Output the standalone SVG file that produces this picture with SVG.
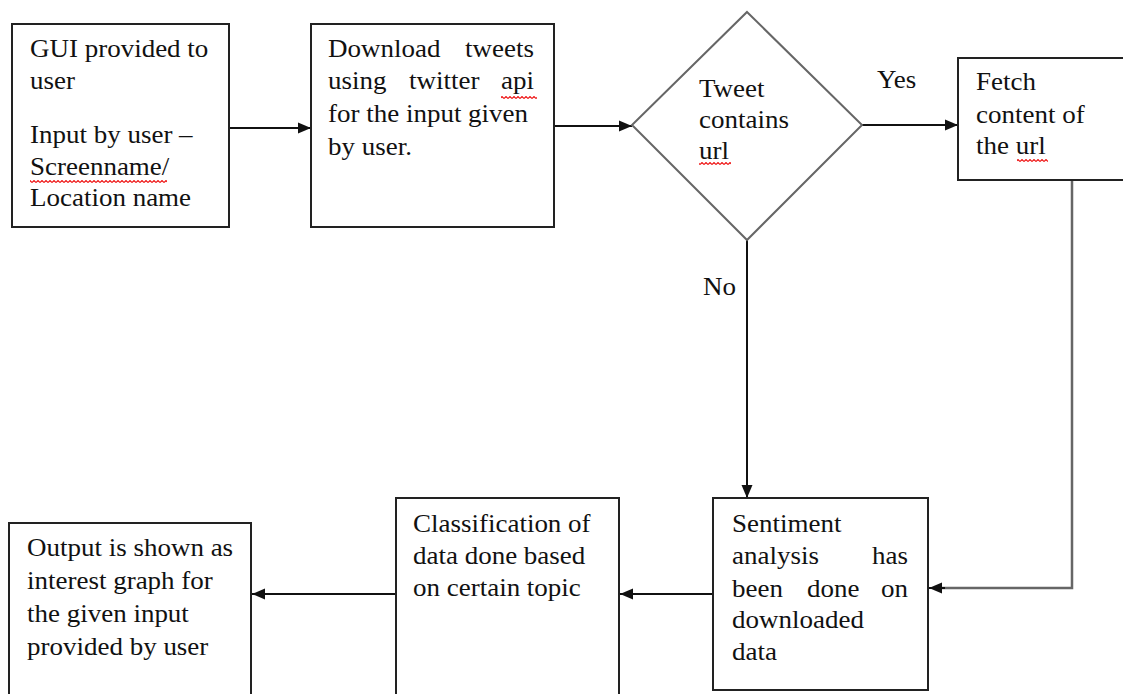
<svg xmlns="http://www.w3.org/2000/svg" width="1123" height="694" viewBox="0 0 1123 694">
<style>
.t{font-family:"Liberation Serif","Times New Roman",serif;font-size:25px;fill:#111}
.box{fill:#fff;stroke:#222;stroke-width:2}
.dia{fill:#fff;stroke:#666;stroke-width:2}
.c{fill:none;stroke:#111;stroke-width:2}
.cg{fill:none;stroke:#666;stroke-width:2.5}
.sq{fill:url(#squig)}
</style>
<defs>
<marker id="ah" markerUnits="userSpaceOnUse" markerWidth="14" markerHeight="12" refX="13" refY="6" orient="auto">
<path d="M0,0.5 L13,6 L0,11.5 z" fill="#111"/>
</marker>
<pattern id="squig" patternUnits="userSpaceOnUse" width="4" height="3">
<path d="M0,2.5 L2,0.5 L4,2.5" fill="none" stroke="#e11" stroke-width="1.1"/>
</pattern>
</defs>
<rect width="1123" height="694" fill="#fff"/>

<g id="connectors">
<line class="c" x1="229" y1="128" x2="311" y2="128" marker-end="url(#ah)"/>
<line class="c" x1="554" y1="126" x2="632" y2="126" marker-end="url(#ah)"/>
<line class="c" x1="862" y1="125" x2="958" y2="125" marker-end="url(#ah)"/>
<line class="c" x1="747" y1="240" x2="747" y2="498" marker-end="url(#ah)"/>
<polyline class="cg" points="1072,181 1072,588 940,588"/>
<line class="c" x1="945" y1="588" x2="929" y2="588" marker-end="url(#ah)"/>
<line class="c" x1="713" y1="594" x2="620" y2="594" marker-end="url(#ah)"/>
<line class="c" x1="396" y1="594" x2="252" y2="594" marker-end="url(#ah)"/>
<text class="t" transform="translate(877,88) scale(1.08,1)">Yes</text>
<text class="t" transform="translate(703,295) scale(1.08,1)">No</text>
</g>

<g id="gui">
<rect class="box" x="12" y="24" width="217" height="203"/>
<text class="t" transform="translate(30,57) scale(1.08,1)">GUI provided to</text>
<text class="t" transform="translate(30,89) scale(1.08,1)">user</text>
<text class="t" transform="translate(30,143) scale(1.08,1)">Input by user –</text>
<text class="t" transform="translate(30,175) scale(1.08,1)">Screenname/</text>
<text class="t" transform="translate(30,206) scale(1.08,1)">Location name</text>
<rect class="sq" x="30" y="180" width="137" height="3"/>
</g>

<g id="download">
<rect class="box" x="311" y="24" width="243" height="203"/>
<text class="t" transform="translate(328,57) scale(1.08,1)">Download</text>
<text class="t" text-anchor="end" transform="translate(534,57) scale(1.08,1)">tweets</text>
<text class="t" transform="translate(328,89) scale(1.08,1)">using</text>
<text class="t" transform="translate(409,89) scale(1.08,1)">twitter</text>
<text class="t" text-anchor="end" transform="translate(534,89) scale(1.08,1)">api</text>
<text class="t" transform="translate(328,122) scale(1.08,1)">for the input given</text>
<text class="t" transform="translate(328,155) scale(1.08,1)">by user.</text>
<rect class="sq" x="501" y="96" width="36" height="3"/>
</g>

<g id="decision">
<polygon class="dia" points="747,12 862,125 747,240 632,125"/>
<text class="t" transform="translate(699,97) scale(1.08,1)">Tweet</text>
<text class="t" transform="translate(699,128) scale(1.08,1)">contains</text>
<text class="t" transform="translate(699,159) scale(1.08,1)">url</text>
<rect class="sq" x="699" y="162" width="32" height="3"/>
</g>

<g id="fetch">
<rect class="box" x="958" y="58" width="180" height="122"/>
<text class="t" transform="translate(976,90) scale(1.08,1)">Fetch</text>
<text class="t" transform="translate(976,123) scale(1.08,1)">content of</text>
<text class="t" transform="translate(976,154) scale(1.08,1)">the url</text>
<rect class="sq" x="1017" y="159" width="31" height="3"/>
</g>

<g id="sentiment">
<rect class="box" x="713" y="498" width="215" height="192"/>
<text class="t" transform="translate(732,532) scale(1.08,1)">Sentiment</text>
<text class="t" transform="translate(732,564) scale(1.08,1)">analysis</text>
<text class="t" text-anchor="end" transform="translate(908,564) scale(1.08,1)">has</text>
<text class="t" transform="translate(732,597) scale(1.08,1)">been</text>
<text class="t" transform="translate(807,597) scale(1.08,1)">done</text>
<text class="t" text-anchor="end" transform="translate(908,597) scale(1.08,1)">on</text>
<text class="t" transform="translate(732,628) scale(1.08,1)">downloaded</text>
<text class="t" transform="translate(732,660) scale(1.08,1)">data</text>
</g>

<g id="classification">
<rect class="box" x="396" y="498" width="223" height="210"/>
<text class="t" transform="translate(413,532) scale(1.08,1)">Classification of</text>
<text class="t" transform="translate(413,564) scale(1.08,1)">data done based</text>
<text class="t" transform="translate(413,596) scale(1.08,1)">on certain topic</text>
</g>

<g id="output">
<rect class="box" x="9" y="523" width="242" height="190"/>
<text class="t" transform="translate(27,556) scale(1.08,1)">Output is shown as</text>
<text class="t" transform="translate(27,589) scale(1.08,1)">interest graph for</text>
<text class="t" transform="translate(27,622) scale(1.08,1)">the given input</text>
<text class="t" transform="translate(27,655) scale(1.08,1)">provided by user</text>
</g>
</svg>
